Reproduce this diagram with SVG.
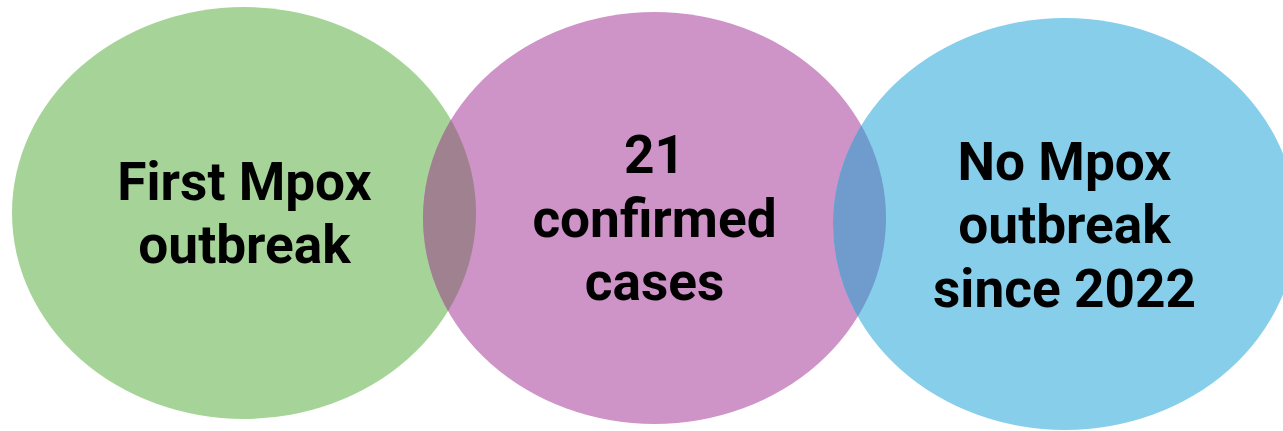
<svg xmlns="http://www.w3.org/2000/svg" width="1283" height="431" viewBox="0 0 1283 431">
<style>
.lbl{font-family:Roboto,"Liberation Sans",sans-serif;font-weight:700;font-size:53.2px;fill:#000;text-anchor:middle}
</style>
<defs>
<clipPath id="cPink"><ellipse cx="654.5" cy="218" rx="231.5" ry="206"/></clipPath>
<clipPath id="cPink2"><ellipse cx="654.5" cy="218" rx="231.5" ry="206"/></clipPath>
</defs>
<rect width="1283" height="431" fill="#fff"/>
<g id="node-green">
<ellipse cx="244" cy="213" rx="232" ry="206" fill="#a6d498"/>
</g>
<g id="node-pink">
<ellipse cx="654.5" cy="218" rx="231.5" ry="206" fill="#ce93c7"/>
</g>
<g id="node-blue">
<ellipse cx="1065" cy="224" rx="232" ry="206" fill="#87ceea"/>
</g>
<g id="overlaps">
<ellipse cx="244" cy="213" rx="232" ry="206" fill="#a0818f" clip-path="url(#cPink)"/>
<ellipse cx="1065" cy="224" rx="232" ry="206" fill="#709bcd" clip-path="url(#cPink2)"/>
</g>
<g id="labels">
<text class="lbl" x="244.5" y="200">First Mpox</text>
<text class="lbl" x="244.5" y="263">outbreak</text>
<text class="lbl" x="654.5" y="173">21</text>
<text class="lbl" x="654.5" y="237">confirmed</text>
<text class="lbl" x="654.5" y="300">cases</text>
<text class="lbl" x="1064.5" y="180">No Mpox</text>
<text class="lbl" x="1064.5" y="243">outbreak</text>
<text class="lbl" x="1064.5" y="307">since 2022</text>
</g>
<g id="connectors"/>
</svg>
